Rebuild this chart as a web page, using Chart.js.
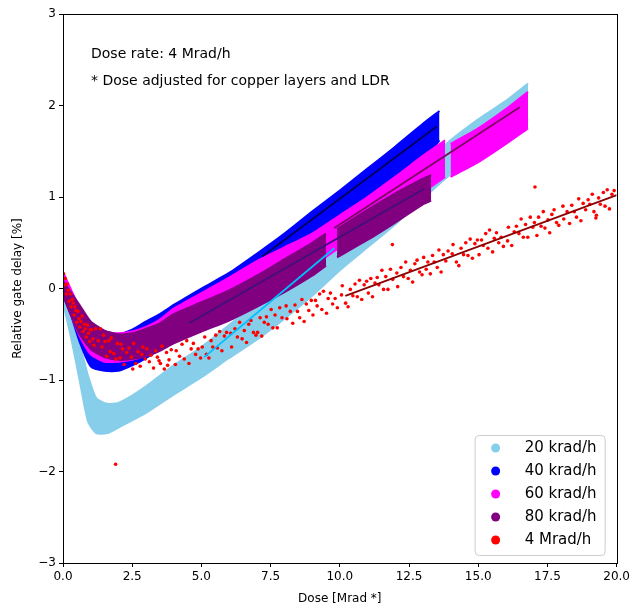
<!DOCTYPE html>
<html>
<head>
<meta charset="utf-8">
<script src="https://cdn.jsdelivr.net/npm/chart.js@4.4.0/dist/chart.umd.min.js"></script>
<style>
  html, body { margin: 0; padding: 0; background: #fff; }
  #wrap { width: 633px; height: 607px; }
</style>
</head>
<body>
<div id="wrap"><canvas id="myChart" width="633" height="607"></canvas></div>
<script>
// Axis ticks
const xTickValues = [0, 2.5, 5, 7.5, 10, 12.5, 15, 17.5, 20];
const yTickValues = [-3, -2, -1, 0, 1, 2, 3];

// Legend
const seriesLabels = ['20 krad/h', '40 krad/h', '60 krad/h', '80 krad/h', '4 Mrad/h'];
const seriesColors = ['#87CEEB', '#0000FF', '#FF00FF', '#800080', '#FF0000'];
const notes = ['Dose rate: 4 Mrad/h', '* Dose adjusted for copper layers and LDR'];

// Dense clouds, read as lower / upper edge of each cloud (dose in Mrad*, delay in %)
const dose20 = [0, 0.3, 0.6, 0.9, 1.2, 1.6, 2.0, 2.5, 3.0, 4.0, 5.0, 6.0, 7.0, 8.0, 9.0, 10.0, 11.0, 12.0, 13.0, 14.0, 15.0, 16.0, 16.8];
const low20  = [-0.15, -0.55, -1.0, -1.45, -1.58, -1.58, -1.52, -1.44, -1.36, -1.16, -0.97, -0.76, -0.56, -0.33, -0.08, 0.2, 0.45, 0.7, 0.98, 1.25, 1.45, 1.65, 1.85];
const high20 = [0.0, -0.25, -0.6, -0.95, -1.2, -1.26, -1.25, -1.17, -1.07, -0.84, -0.64, -0.4, -0.16, 0.07, 0.3, 0.58, 0.82, 1.08, 1.35, 1.62, 1.85, 2.05, 2.24];

const dose40 = [0, 0.3, 0.6, 1.0, 1.5, 2.0, 2.5, 3.0, 3.5, 4.0, 5.0, 6.0, 7.0, 8.0, 9.0, 10.0, 11.0, 12.0, 13.0, 13.6];
const low40  = [-0.05, -0.3, -0.58, -0.85, -0.9, -0.9, -0.84, -0.76, -0.66, -0.56, -0.36, -0.16, 0.04, 0.24, 0.46, 0.68, 0.92, 1.16, 1.4, 1.62];
const high40 = [0.12, -0.05, -0.22, -0.42, -0.5, -0.5, -0.45, -0.36, -0.28, -0.18, 0.0, 0.17, 0.38, 0.6, 0.84, 1.07, 1.31, 1.55, 1.8, 1.94];

const dose60a = [0, 0.3, 0.6, 1.0, 1.5, 2.0, 2.5, 3.0, 3.5, 4.0, 5.0, 6.0, 7.0, 8.0, 9.0, 10.0, 11.0, 12.0, 13.0, 13.8];
const low60a  = [-0.05, -0.3, -0.52, -0.72, -0.8, -0.8, -0.78, -0.73, -0.66, -0.58, -0.42, -0.28, -0.12, 0.06, 0.24, 0.45, 0.63, 0.84, 1.05, 1.22];
const high60a = [0.18, -0.02, -0.2, -0.38, -0.47, -0.49, -0.47, -0.42, -0.34, -0.22, -0.05, 0.12, 0.3, 0.45, 0.6, 0.8, 1.0, 1.22, 1.45, 1.62];
const dose60b = [14.0, 15.0, 16.0, 16.8];
const low60b  = [1.22, 1.38, 1.58, 1.75];
const high60b = [1.58, 1.75, 1.96, 2.15];

const dose80a = [0, 0.3, 0.6, 1.0, 1.5, 2.0, 2.5, 3.0, 3.5, 4.0, 5.0, 6.0, 7.0, 8.0, 9.0, 9.5];
const low80a  = [-0.08, -0.3, -0.5, -0.66, -0.75, -0.78, -0.77, -0.74, -0.68, -0.6, -0.47, -0.35, -0.2, -0.04, 0.14, 0.25];
const high80a = [0.08, -0.05, -0.18, -0.36, -0.46, -0.5, -0.49, -0.44, -0.38, -0.28, -0.15, -0.02, 0.14, 0.32, 0.5, 0.6];
const dose80b = [9.9, 11.0, 12.0, 13.0, 13.3];
const low80b  = [0.34, 0.53, 0.72, 0.92, 0.96];
const high80b = [0.65, 0.86, 1.04, 1.2, 1.24];

// 4 Mrad/h single points
const points4M = [
  [0.02,0.16],[0.05,0.04],[0.08,0.11],[0.12,-0.06],[0.15,0.05],[0.19,-0.02],[0.22,-0.14],[0.26,-0.06],[0.29,-0.2],[0.33,-0.12],
  [0.37,-0.16],[0.4,-0.29],[0.43,-0.2],[0.47,-0.24],[0.5,-0.37],[0.54,-0.25],[0.58,-0.33],[0.61,-0.42],[0.65,-0.36],[0.69,-0.3],
  [0.73,-0.47],[0.77,-0.39],[0.8,-0.44],[0.84,-0.53],[0.88,-0.4],[0.92,-0.49],[0.96,-0.58],[0.99,-0.45],
  [1.03,-0.45],[1.08,-0.55],[1.12,-0.62],[1.18,-0.44],[1.27,-0.57],[1.35,-0.44],[1.41,-0.64],[1.46,-0.51],[1.52,-0.58],[1.58,-0.74],
  [1.66,-0.57],[1.7,-0.69],[1.74,-0.54],[1.83,-0.71],[1.9,-1.92],[1.91,-0.77],[1.96,-0.6],
  [2.06,-0.76],[2.09,-0.61],[2.15,-0.66],[2.21,-0.83],[2.3,-0.7],[2.38,-0.65],[2.47,-0.75],[2.52,-0.88],[2.55,-0.6],[2.63,-0.82],
  [2.71,-0.69],[2.79,-0.85],[2.85,-0.72],[2.88,-0.64],[2.97,-0.77],
  [3.03,-0.66],[3.12,-0.8],[3.18,-0.73],[3.27,-0.87],[3.35,-0.68],[3.41,-0.75],[3.47,-0.79],[3.52,-0.82],[3.58,-0.63],[3.66,-0.88],
  [3.74,-0.7],[3.78,-0.84],[3.83,-0.78],[3.91,-0.67],
  [4.06,-0.83],[4.09,-0.68],[4.21,-0.74],[4.3,-0.61],[4.38,-0.77],[4.47,-0.57],[4.55,-0.82],[4.63,-0.66],[4.71,-0.6],[4.79,-0.72],
  [4.88,-0.66],[4.97,-0.76],
  [5.03,-0.64],[5.12,-0.53],[5.18,-0.72],[5.27,-0.76],[5.35,-0.57],[5.41,-0.64],[5.52,-0.51],[5.58,-0.65],[5.66,-0.47],[5.74,-0.68],
  [5.83,-0.52],[5.91,-0.48],
  [6.06,-0.49],[6.09,-0.64],[6.21,-0.44],[6.3,-0.53],[6.38,-0.37],[6.47,-0.55],[6.55,-0.46],[6.63,-0.59],[6.71,-0.39],[6.79,-0.35],
  [6.88,-0.48],[6.97,-0.51],
  [7.03,-0.48],[7.12,-0.32],[7.18,-0.52],[7.27,-0.37],[7.35,-0.31],[7.41,-0.39],[7.52,-0.23],[7.58,-0.43],[7.66,-0.29],[7.74,-0.43],
  [7.83,-0.21],[7.91,-0.32],
  [8.06,-0.19],[8.09,-0.33],[8.21,-0.25],[8.3,-0.38],[8.38,-0.18],[8.47,-0.25],[8.55,-0.32],[8.63,-0.12],[8.71,-0.36],[8.79,-0.17],
  [8.88,-0.24],[8.97,-0.13],
  [9.03,-0.29],[9.12,-0.13],[9.18,-0.19],[9.27,-0.06],[9.35,-0.23],[9.41,-0.03],[9.52,-0.27],[9.58,-0.11],[9.66,-0.05],[9.74,-0.17],
  [9.83,-0.11],[9.91,-0.21],
  [10.06,-0.07],[10.09,0.03],[10.21,-0.16],[10.3,-0.2],[10.38,-0.01],[10.47,-0.08],[10.55,0.05],[10.63,-0.09],[10.71,0.09],[10.79,-0.12],
  [10.88,0.04],[10.97,0.08],
  [11.03,-0.05],[11.12,0.11],[11.18,-0.09],[11.27,0.06],[11.35,0.12],[11.41,0.04],[11.52,0.2],[11.58,-0.01],[11.66,0.13],[11.74,-0.01],
  [11.83,0.21],[11.9,0.48],[11.91,0.1],
  [12.06,0.17],[12.09,0.02],[12.21,0.23],[12.3,0.13],[12.38,0.29],[12.47,0.11],[12.55,0.2],[12.63,0.07],[12.71,0.27],[12.79,0.31],
  [12.88,0.18],[12.97,0.15],
  [13.03,0.34],[13.12,0.21],[13.18,0.29],[13.27,0.16],[13.35,0.36],[13.41,0.29],[13.52,0.23],[13.58,0.42],[13.66,0.18],[13.74,0.37],
  [13.83,0.3],[13.91,0.41],
  [14.06,0.38],[14.09,0.48],[14.21,0.29],[14.3,0.25],[14.38,0.44],[14.47,0.37],[14.55,0.5],[14.63,0.36],[14.71,0.54],[14.79,0.33],
  [14.88,0.49],[14.97,0.53],
  [15.03,0.37],[15.12,0.53],[15.18,0.47],[15.27,0.6],[15.35,0.44],[15.41,0.64],[15.52,0.4],[15.58,0.55],[15.66,0.61],[15.74,0.5],
  [15.83,0.56],[15.91,0.46],
  [16.06,0.52],[16.09,0.67],[16.21,0.47],[16.3,0.62],[16.38,0.68],[16.47,0.6],[16.55,0.76],[16.63,0.56],[16.71,0.7],[16.79,0.56],
  [16.88,0.78],[16.97,0.67],[17.05,1.11],
  [17.03,0.72],[17.12,0.58],[17.18,0.78],[17.27,0.68],[17.35,0.84],[17.41,0.66],[17.52,0.75],[17.58,0.61],[17.66,0.81],[17.74,0.86],
  [17.83,0.72],[17.91,0.69],
  [18.06,0.9],[18.09,0.76],[18.21,0.84],[18.3,0.71],[18.38,0.91],[18.47,0.84],[18.55,0.78],[18.63,0.98],[18.71,0.74],[18.79,0.93],
  [18.88,0.86],[18.97,0.97],
  [19.03,0.92],[19.12,1.03],[19.18,0.84],[19.25,0.77],[19.27,0.8],[19.35,0.99],[19.41,0.92],[19.52,1.05],[19.58,0.9],[19.66,1.08],
  [19.74,0.87],[19.83,1.03],[19.91,1.07]
];

// Linear fits (start / end)
const fit20 = [[5.1, -0.75], [9.8, 0.44]];
const fit40 = [[7.2, 0.35], [13.5, 1.77]];
const fit60 = [[9.8, 0.66], [16.5, 1.98]];
const fit80 = [[4.55, -0.38], [13.05, 1.09]];
const fit4M = [[10.2, -0.08], [20, 1.02]];

function band(xs, lo, hi, color, order) {
  const common = {
    showLine: true, pointRadius: 0, borderColor: color, backgroundColor: color,
    borderWidth: 2, tension: 0.2, order: order
  };
  return [
    Object.assign({ data: xs.map((x, i) => ({ x: x, y: lo[i] })), fill: false }, common),
    Object.assign({ data: xs.map((x, i) => ({ x: x, y: hi[i] })), fill: '-1' }, common)
  ];
}

function fitLine(pts, color) {
  return {
    data: pts.map(p => ({ x: p[0], y: p[1] })),
    showLine: true, pointRadius: 0, borderColor: color, borderWidth: 1.8, fill: false, order: 1
  };
}

const datasets = [].concat(
  band(dose20, low20, high20, seriesColors[0], 50),
  band(dose40, low40, high40, seriesColors[1], 40),
  band(dose60a, low60a, high60a, seriesColors[2], 30),
  band(dose60b, low60b, high60b, seriesColors[2], 30),
  band(dose80a, low80a, high80a, seriesColors[3], 20),
  band(dose80b, low80b, high80b, seriesColors[3], 20),
  [{
    data: points4M.map(p => ({ x: p[0], y: p[1] })),
    pointRadius: 1.8, pointBorderWidth: 0, pointBackgroundColor: seriesColors[4], order: 10
  }],
  [
    fitLine(fit20, '#00BFFF'),
    fitLine(fit40, '#00005a'),
    fitLine(fit60, '#7a0a60'),
    fitLine(fit80, '#40107a'),
    fitLine(fit4M, '#8B0000')
  ]
);

// frame, notes and legend drawn on top
const frameAndLegend = {
  id: 'frameAndLegend',
  afterDraw(chart) {
    const ctx = chart.ctx;
    const a = chart.chartArea;
    ctx.save();
    ctx.strokeStyle = '#000';
    ctx.lineWidth = 1;
    ctx.strokeRect(Math.round(a.left) + 0.5, Math.round(a.top) + 0.5,
      Math.round(a.right - a.left), Math.round(a.bottom - a.top));

    ctx.fillStyle = '#000';
    ctx.font = '14px "DejaVu Sans"';
    ctx.textAlign = 'left';
    ctx.textBaseline = 'middle';
    ctx.fillText(notes[0], a.left + 28, a.top + 40);
    ctx.fillText(notes[1], a.left + 28, a.top + 67);

    // legend box
    const bw = 130, bh = 120;
    const bx = a.right - 12 - bw, by = a.bottom - 8 - bh;
    ctx.beginPath();
    ctx.roundRect(bx + 0.5, by + 0.5, bw, bh, 4);
    ctx.fillStyle = 'rgba(255,255,255,0.8)';
    ctx.fill();
    ctx.strokeStyle = '#cccccc';
    ctx.stroke();
    ctx.font = '15px "DejaVu Sans"';
    seriesLabels.forEach((label, i) => {
      const y = by + 13 + i * 23;
      ctx.beginPath();
      ctx.arc(bx + 21, y, 4.5, 0, Math.PI * 2);
      ctx.fillStyle = seriesColors[i];
      ctx.fill();
      ctx.fillStyle = '#000';
      ctx.fillText(label, bx + 50, y);
    });
    ctx.restore();
  }
};

const ctx = document.getElementById('myChart').getContext('2d');
Chart.defaults.font.family = '"DejaVu Sans"';
Chart.defaults.font.size = 12;
Chart.defaults.color = '#000';

const myChart = new Chart(ctx, {
  type: 'scatter',
  data: { datasets: datasets },
  options: {
    responsive: false,
    animation: false,
    layout: { padding: { top: 14, right: 12, bottom: 0, left: 0 } },
    plugins: {
      legend: { display: false },
      tooltip: { enabled: false }
    },
    scales: {
      x: {
        type: 'linear', min: 0, max: 20,
        afterBuildTicks: s => { s.ticks = xTickValues.map(v => ({ value: v })); },
        afterFit: s => { s.height = 44; },
        ticks: { padding: 3, callback: v => v.toFixed(1) },
        grid: { drawOnChartArea: false, drawTicks: true, tickLength: 4, color: '#000' },
        border: { display: true, color: '#000' },
        title: { display: true, text: 'Dose [Mrad *]', padding: { top: 0, bottom: 1 } }
      },
      y: {
        type: 'linear', min: -3, max: 3,
        afterBuildTicks: s => { s.ticks = yTickValues.map(v => ({ value: v })); },
        afterFit: s => { s.width = 63; },
        ticks: { padding: 3, callback: v => String(v).replace('-', '\u2212') },
        grid: { drawOnChartArea: false, drawTicks: true, tickLength: 4, color: '#000' },
        border: { display: true, color: '#000' },
        title: { display: true, text: 'Relative gate delay [%]', padding: { top: 11, bottom: 0 } }
      }
    }
  },
  plugins: [frameAndLegend]
});
</script>
</body>
</html>
